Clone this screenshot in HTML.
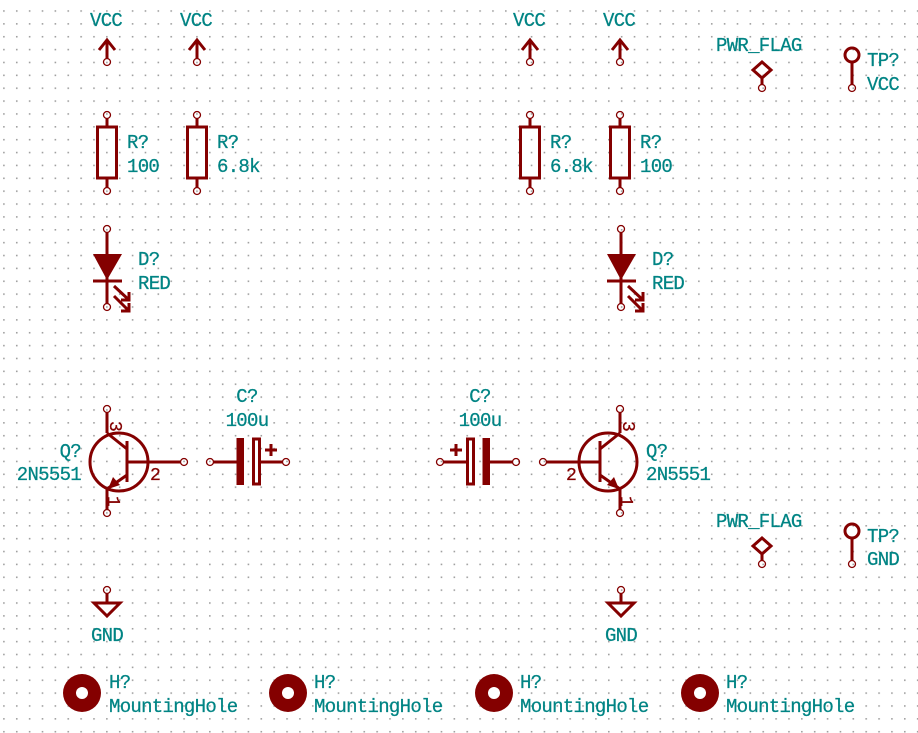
<!DOCTYPE html>
<html><head><meta charset="utf-8"><style>
html,body{margin:0;padding:0;background:#fff;width:918px;height:733px;overflow:hidden}
svg{display:block}
text{font-family:"Liberation Mono","DejaVu Sans Mono",monospace;font-size:19px;letter-spacing:-0.7px;fill:#008484;stroke:#008484;stroke-width:0.25}
.r{stroke:#840000;fill:none;stroke-width:3}
.p{stroke:#840000;fill:none;stroke-width:1.3}
.f{fill:#840000}
.pn{font-size:18px;fill:#840000;stroke:#840000}
</style></head><body>
<svg width="918" height="733" viewBox="0 0 918 733" xmlns="http://www.w3.org/2000/svg">
<defs>
<pattern id="g" x="3.1" y="10.2" width="12.87" height="12.87" patternUnits="userSpaceOnUse">
<rect x="0" y="0" width="1.6" height="1.6" fill="#a0a0a0"/>
</pattern>
</defs>
<rect width="918" height="733" fill="url(#g)"/>

<g id="vcc">
<line class="r" x1="107" y1="40" x2="107" y2="58"/><polyline class="r" points="99,50 107,40 115,50"/>
<circle class="p" cx="107" cy="62" r="3.5" fill="#fff"/>
</g>
<use href="#vcc" x="90"/><use href="#vcc" x="423"/><use href="#vcc" x="513"/>
<text x="90" y="26">VCC</text><text x="180" y="26">VCC</text><text x="513" y="26">VCC</text><text x="603" y="26">VCC</text>

<g id="res">
<line class="r" x1="107" y1="118" x2="107" y2="127"/><line class="r" x1="107" y1="178" x2="107" y2="188"/>
<rect class="r" x="97.5" y="127" width="19" height="51" stroke-width="3.5"/>
<circle class="p" cx="107" cy="115" r="3.5" fill="#fff"/><circle class="p" cx="107" cy="191" r="3.5" fill="#fff"/>
</g>
<use href="#res" x="90"/><use href="#res" x="423"/><use href="#res" x="513"/>
<text x="127" y="148">R?</text><text x="127" y="172">100</text>
<text x="217" y="148">R?</text><text x="217" y="172">6.8k</text>
<text x="550" y="148">R?</text><text x="550" y="172">6.8k</text>
<text x="640" y="148">R?</text><text x="640" y="172">100</text>

<g id="led">
<line class="r" x1="107" y1="232" x2="107" y2="304"/>
<polygon class="f" points="93,254 122,254 107,280"/>
<line class="r" x1="93" y1="281" x2="122" y2="281"/>
<line class="r" x1="114" y1="286" x2="129" y2="300" stroke-width="2.2"/><polyline class="r" stroke-width="2.2" points="121,300 129,300 129,292"/>
<line class="r" x1="114" y1="296" x2="129" y2="311" stroke-width="2.2"/><polyline class="r" stroke-width="2.2" points="121,311 129,311 129,303"/>
<circle class="p" cx="107" cy="229" r="3.5" fill="#fff"/><circle class="p" cx="107" cy="307" r="3.5" fill="#fff"/>
</g>
<use href="#led" x="514"/>
<text x="138" y="265">D?</text><text x="138" y="289">RED</text>
<text x="652" y="265">D?</text><text x="652" y="289">RED</text>

<g id="q">
<circle class="r" cx="119" cy="462" r="29" stroke-width="3.5"/>
<line class="r" x1="127" y1="441" x2="127" y2="482" stroke-width="6"/>
<line class="r" x1="107" y1="412" x2="107" y2="433"/>
<line class="r" x1="107" y1="433" x2="127" y2="449"/>
<line class="r" x1="127" y1="475" x2="107" y2="489"/>
<line class="r" x1="107" y1="489" x2="107" y2="510"/>
<polygon class="f" points="108,489 113,477 120,485"/>
<line class="r" x1="127" y1="462" x2="181" y2="462"/>
<circle class="p" cx="107" cy="409" r="3.5" fill="#fff"/><circle class="p" cx="107" cy="513" r="3.5" fill="#fff"/>
<circle class="p" cx="184" cy="462" r="3.5" fill="#fff"/>
</g>
<text class="pn" x="111" y="434" transform="rotate(90 117 427)">3</text>
<text class="pn" x="109" y="509" transform="rotate(90 115 502)">1</text>
<text class="pn" x="150" y="480">2</text>
<text x="81" y="457" text-anchor="end">Q?</text><text x="81" y="480" text-anchor="end">2N5551</text>

<use href="#q" transform="translate(727 0) scale(-1 1)"/>
<text class="pn" x="624" y="434" transform="rotate(90 630 427)">3</text>
<text class="pn" x="622" y="509" transform="rotate(90 628 502)">1</text>
<text class="pn" x="566" y="480">2</text>
<text x="646" y="457">Q?</text><text x="646" y="480">2N5551</text>

<line class="r" x1="213" y1="462" x2="237" y2="462"/><line class="r" x1="259" y1="462" x2="283" y2="462"/>
<rect class="f" x="236.5" y="438" width="7.5" height="47"/>
<rect class="r" x="253.5" y="439" width="6" height="45" stroke-width="2.2"/>
<line class="r" x1="265" y1="450" x2="277" y2="450"/><line class="r" x1="271" y1="444" x2="271" y2="456"/>
<circle class="p" cx="210" cy="462" r="3.5" fill="#fff"/><circle class="p" cx="286" cy="462" r="3.5" fill="#fff"/>
<text x="247" y="402" text-anchor="middle">C?</text><text x="247" y="426" text-anchor="middle">100u</text>

<line class="r" x1="443" y1="462" x2="467" y2="462"/><line class="r" x1="489" y1="462" x2="513" y2="462"/>
<rect class="f" x="482.5" y="438" width="7.5" height="47"/>
<rect class="r" x="467.5" y="439" width="6" height="45" stroke-width="2.2"/>
<line class="r" x1="450" y1="450" x2="462" y2="450"/><line class="r" x1="456" y1="444" x2="456" y2="456"/>
<circle class="p" cx="440" cy="462" r="3.5" fill="#fff"/><circle class="p" cx="516" cy="462" r="3.5" fill="#fff"/>
<text x="480" y="402" text-anchor="middle">C?</text><text x="480" y="426" text-anchor="middle">100u</text>

<g id="gnd">
<line class="r" x1="107" y1="593" x2="107" y2="603"/>
<polygon class="r" points="94,603 120,603 107,616" stroke-width="2.2"/>
<circle class="p" cx="107" cy="590" r="3.5" fill="#fff"/>
</g>
<use href="#gnd" x="514"/>
<text x="107" y="641" text-anchor="middle">GND</text><text x="621" y="641" text-anchor="middle">GND</text>

<g id="pf">
<polygon class="r" points="762,62 771,70 762,78 753,70" stroke-width="2.2"/>
<line class="r" x1="762" y1="78" x2="762" y2="85" stroke-width="2.2"/>
<circle class="p" cx="762" cy="88" r="3.5" fill="#fff"/>
<circle class="r" cx="852" cy="55" r="7" stroke-width="2.2"/>
<line class="r" x1="852" y1="62" x2="852" y2="85"/>
<circle class="p" cx="852" cy="88" r="3.5" fill="#fff"/>
</g>
<use href="#pf" y="476"/>
<text x="716" y="51">PWR_FLAG</text><text x="867" y="66">TP?</text><text x="867" y="90">VCC</text>
<text x="716" y="527">PWR_FLAG</text><text x="867" y="542">TP?</text><text x="867" y="565">GND</text>

<g id="mh">
<circle cx="82" cy="693" r="19" fill="#840000"/><circle cx="82" cy="693" r="6" fill="#fff"/>
</g>
<use href="#mh" x="206"/><use href="#mh" x="412"/><use href="#mh" x="618"/>
<text x="109" y="688">H?</text><text x="109" y="712">MountingHole</text>
<text x="314" y="688">H?</text><text x="314" y="712">MountingHole</text>
<text x="520" y="688">H?</text><text x="520" y="712">MountingHole</text>
<text x="726" y="688">H?</text><text x="726" y="712">MountingHole</text>
</svg>
</body></html>
